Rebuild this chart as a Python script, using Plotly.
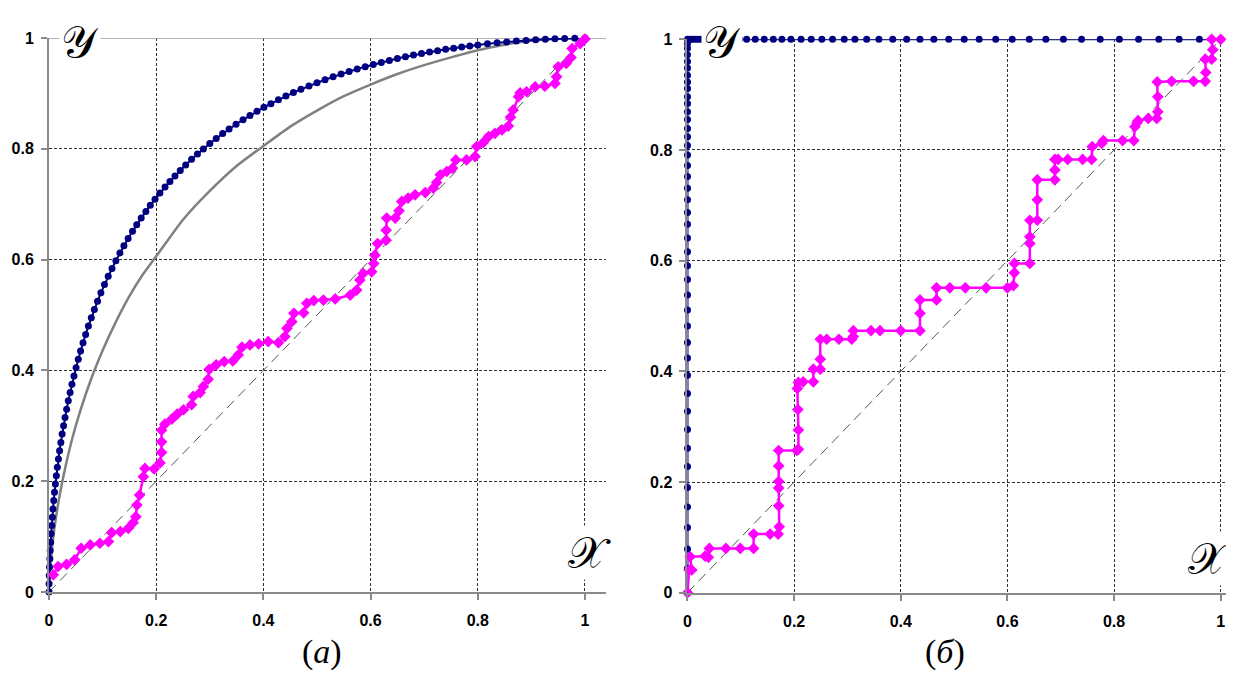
import plotly.graph_objects as go

# ---------------- data ----------------
TICK_VALS = [0, 0.2, 0.4, 0.6, 0.8, 1]
TICK_TEXT = ["0", "0.2", "0.4", "0.6", "0.8", "1"]
DIAG = [0, 1]

# panel (a): smooth estimated ROC (navy, markers)
a_blue_x = [0, 0.0002, 0.0005, 0.001, 0.0016, 0.0023, 0.0031, 0.004, 0.005, 0.0062, 0.0074,
            0.0088, 0.0103, 0.0119, 0.0137, 0.0156, 0.0176, 0.0197, 0.0221, 0.0245, 0.0272,
            0.0299, 0.0329, 0.036, 0.0394, 0.0428, 0.0466, 0.0505, 0.0546, 0.0589, 0.0635,
            0.0684, 0.0735, 0.0789, 0.0846, 0.0906, 0.0968, 0.1035, 0.1105, 0.1176, 0.1248,
            0.1323, 0.1398, 0.1476, 0.1558, 0.1637, 0.172, 0.1807, 0.189, 0.1978, 0.2069,
            0.2165, 0.2256, 0.235, 0.2449, 0.255, 0.266, 0.277, 0.288, 0.3, 0.312, 0.324,
            0.336, 0.349, 0.362, 0.375, 0.388, 0.401, 0.414, 0.428, 0.442, 0.456, 0.47,
            0.485, 0.5, 0.515, 0.53, 0.545, 0.56, 0.575, 0.59, 0.605, 0.62, 0.635, 0.65,
            0.665, 0.68, 0.695, 0.71, 0.725, 0.74, 0.755, 0.77, 0.785, 0.8, 0.818, 0.836,
            0.854, 0.872, 0.89, 0.908, 0.926, 0.944, 0.962, 0.981, 1.0]
a_blue_y = [0, 0.015, 0.03, 0.045, 0.06, 0.075, 0.09, 0.105, 0.12, 0.135, 0.15,
            0.165, 0.18, 0.195, 0.21, 0.225, 0.24, 0.255, 0.27, 0.285, 0.3,
            0.315, 0.33, 0.345, 0.36, 0.375, 0.39, 0.405, 0.42, 0.435, 0.45,
            0.465, 0.48, 0.495, 0.51, 0.525, 0.54, 0.555, 0.57, 0.584, 0.598,
            0.612, 0.625, 0.638, 0.651, 0.663, 0.675, 0.687, 0.698, 0.709, 0.72,
            0.731, 0.741, 0.751, 0.761, 0.7707, 0.7811, 0.7905, 0.7998, 0.8095, 0.8186, 0.8274,
            0.8357, 0.8443, 0.8524, 0.8601, 0.8676, 0.8748, 0.8815, 0.8884, 0.8951, 0.9014, 0.9074,
            0.9135, 0.9192, 0.9247, 0.9299, 0.9349, 0.9396, 0.944, 0.9482, 0.9521, 0.9559, 0.9595, 0.9629,
            0.9661, 0.9691, 0.9719, 0.9746, 0.9771, 0.9795, 0.9817, 0.9838, 0.9857, 0.9875, 0.9895, 0.9913,
            0.9929, 0.9944, 0.9957, 0.9968, 0.9978, 0.9986, 0.9992, 0.9997, 1.0]

# panel (a): theoretical ROC (gray line)
a_gray_x = [0, 0.001, 0.003, 0.007, 0.012, 0.02, 0.03, 0.045, 0.06, 0.08, 0.1, 0.125, 0.15,
            0.175, 0.2, 0.25, 0.3, 0.35, 0.4, 0.45, 0.5, 0.55, 0.6, 0.65, 0.7, 0.75, 0.8,
            0.85, 0.9, 0.95, 1.0]
a_gray_y = [0, 0.024, 0.052, 0.091, 0.128, 0.175, 0.223, 0.283, 0.332, 0.388, 0.436, 0.488, 0.534,
            0.573, 0.606, 0.672, 0.724, 0.769, 0.805, 0.840, 0.869, 0.895, 0.916, 0.935, 0.951, 0.965, 0.978,
            0.988, 0.995, 0.999, 1.0]

# panel (a): empirical ROC (magenta)
a_mag_x = [0.008, 0.017, 0.033, 0.048, 0.060, 0.077, 0.095, 0.111, 0.117, 0.133, 0.148, 0.157,
           0.162, 0.164, 0.169, 0.176, 0.179, 0.196, 0.207, 0.210, 0.210, 0.210, 0.216, 0.229,
           0.239, 0.251, 0.266, 0.269, 0.282, 0.288, 0.297, 0.299, 0.312, 0.327, 0.343, 0.353,
           0.360, 0.375, 0.391, 0.409, 0.428, 0.440, 0.444, 0.453, 0.457, 0.475, 0.481, 0.494,
           0.512, 0.534, 0.562, 0.574, 0.580, 0.586, 0.602, 0.606, 0.608, 0.613, 0.629, 0.629,
           0.630, 0.646, 0.653, 0.658, 0.670, 0.683, 0.702, 0.717, 0.723, 0.730, 0.742, 0.753,
           0.759, 0.779, 0.795, 0.798, 0.810, 0.820, 0.832, 0.845, 0.857, 0.861, 0.866, 0.876,
           0.879, 0.891, 0.907, 0.925, 0.944, 0.947, 0.950, 0.965, 0.974, 0.976, 0.991, 1.000]
a_mag_y = [0.031, 0.046, 0.050, 0.058, 0.079, 0.085, 0.088, 0.091, 0.107, 0.109, 0.115, 0.125,
           0.136, 0.157, 0.175, 0.208, 0.223, 0.222, 0.233, 0.252, 0.271, 0.292, 0.303, 0.312,
           0.321, 0.329, 0.338, 0.353, 0.360, 0.371, 0.384, 0.402, 0.410, 0.416, 0.417, 0.428,
           0.442, 0.446, 0.448, 0.452, 0.450, 0.461, 0.476, 0.488, 0.503, 0.504, 0.521, 0.526,
           0.527, 0.529, 0.536, 0.545, 0.563, 0.575, 0.578, 0.593, 0.608, 0.629, 0.635, 0.653,
           0.675, 0.675, 0.688, 0.705, 0.711, 0.717, 0.721, 0.729, 0.739, 0.753, 0.759, 0.765,
           0.780, 0.780, 0.786, 0.804, 0.811, 0.822, 0.828, 0.834, 0.841, 0.857, 0.870, 0.894,
           0.901, 0.903, 0.912, 0.913, 0.918, 0.930, 0.948, 0.954, 0.965, 0.981, 0.990, 0.998]

# panel (б): estimated ROC (navy, markers)
b_blue_x = [0, 0, 0, 0, 0, 0, 0, 0, 0, 0, 0, 0, 0, 0, 0, 0, 0, 0, 0, 0, 0, 0,
            0, 0, 0, 0, 0, 0, 0, 0, 0, 0, 0, 0, 0, 0, 0, 0, 0, 0, 0, 0, 0, 0,
            0.005, 0.010, 0.015, 0.020, 0.025, 0.04, 0.055, 0.07, 0.085, 0.098,
            0.111, 0.127, 0.144, 0.161, 0.177, 0.194, 0.213, 0.232, 0.252, 0.272,
            0.294, 0.314, 0.336, 0.359, 0.385, 0.411, 0.436, 0.462, 0.490, 0.519,
            0.547, 0.578, 0.609, 0.641, 0.672, 0.705, 0.739, 0.774, 0.810, 0.846,
            0.884, 0.922, 0.960, 1.0]
b_blue_y = [0, 0.044, 0.079, 0.118, 0.155, 0.190, 0.228, 0.261, 0.295, 0.328, 0.360,
            0.393, 0.424, 0.452, 0.482, 0.511, 0.538, 0.566, 0.591, 0.616, 0.641, 0.666,
            0.687, 0.710, 0.731, 0.752, 0.772, 0.791, 0.808, 0.824, 0.839, 0.855, 0.869,
            0.884, 0.896, 0.911, 0.923, 0.935, 0.948, 0.960, 0.972, 0.984, 0.992, 1.0,
            1.0, 1.0, 1.0, 1.0, 1.0, 1.0, 1.0, 1.0, 1.0, 1.0,
            1.0, 1.0, 1.0, 1.0, 1.0, 1.0, 1.0, 1.0, 1.0, 1.0,
            1.0, 1.0, 1.0, 1.0, 1.0, 1.0, 1.0, 1.0, 1.0, 1.0,
            1.0, 1.0, 1.0, 1.0, 1.0, 1.0, 1.0, 1.0, 1.0, 1.0,
            1.0, 1.0, 1.0, 1.0]

# panel (б): empirical ROC (magenta)
b_mag_x = [0, 0.003, 0.008, 0.005, 0.033, 0.039, 0.041, 0.072, 0.099, 0.124, 0.124, 0.155,
           0.170, 0.172, 0.171, 0.171, 0.171, 0.171, 0.171, 0.205, 0.208, 0.208, 0.207, 0.206,
           0.208, 0.217, 0.236, 0.236, 0.249, 0.249, 0.249, 0.261, 0.284, 0.308, 0.311, 0.311,
           0.344, 0.361, 0.400, 0.436, 0.436, 0.436, 0.467, 0.467, 0.492, 0.521, 0.560, 0.600,
           0.611, 0.613, 0.613, 0.642, 0.642, 0.642, 0.642, 0.656, 0.656, 0.656, 0.689, 0.689,
           0.689, 0.695, 0.713, 0.741, 0.758, 0.759, 0.777, 0.780, 0.816, 0.837, 0.839, 0.843,
           0.845, 0.864, 0.880, 0.882, 0.882, 0.881, 0.908, 0.949, 0.971, 0.972, 0.971, 0.983,
           0.985, 0.983, 1.0]
b_mag_y = [0, 0.041, 0.041, 0.065, 0.066, 0.064, 0.080, 0.080, 0.080, 0.080, 0.106, 0.106,
           0.106, 0.119, 0.157, 0.189, 0.201, 0.229, 0.257, 0.257, 0.259, 0.294, 0.331, 0.369,
           0.380, 0.381, 0.381, 0.404, 0.404, 0.422, 0.458, 0.458, 0.458, 0.458, 0.463, 0.4735,
           0.4735, 0.4735, 0.4735, 0.4735, 0.505, 0.529, 0.529, 0.551, 0.551, 0.551, 0.551, 0.551,
           0.555, 0.578, 0.595, 0.595, 0.631, 0.643, 0.673, 0.673, 0.710, 0.746, 0.746, 0.764,
           0.783, 0.783, 0.783, 0.783, 0.783, 0.806, 0.812, 0.817, 0.817, 0.817, 0.842, 0.849,
           0.853, 0.857, 0.857, 0.869, 0.896, 0.923, 0.924, 0.924, 0.924, 0.940, 0.964, 0.964,
           0.981, 1.0, 1.0]

# ---------------- styles ----------------
NAVY = "#000080"
MAGENTA = "#FF00FF"
AXIS_GRAY = "#8a8a8a"

fig = go.Figure()

for xa, ya in (("x", "y"), ("x2", "y2")):
    fig.add_trace(go.Scatter(x=DIAG, y=DIAG, mode="lines", xaxis=xa, yaxis=ya,
                             line=dict(color="#555555", width=1, dash="10px,6px"),
                             hoverinfo="skip", showlegend=False))

fig.add_trace(go.Scatter(x=a_gray_x, y=a_gray_y, mode="lines", xaxis="x", yaxis="y",
                         line=dict(color="#808080", width=2.5, shape="spline", smoothing=0.6),
                         showlegend=False))
fig.add_trace(go.Scatter(x=a_blue_x, y=a_blue_y, mode="lines+markers", xaxis="x", yaxis="y",
                         line=dict(color=NAVY, width=2),
                         marker=dict(symbol="circle", size=7, color=NAVY),
                         cliponaxis=False, showlegend=False))
fig.add_trace(go.Scatter(x=a_mag_x, y=a_mag_y, mode="lines+markers", xaxis="x", yaxis="y",
                         line=dict(color=MAGENTA, width=2.5),
                         marker=dict(symbol="diamond", size=9, color=MAGENTA),
                         cliponaxis=False, showlegend=False))
fig.add_trace(go.Scatter(x=b_blue_x, y=b_blue_y, mode="lines+markers", xaxis="x2", yaxis="y2",
                         line=dict(color=NAVY, width=2),
                         marker=dict(symbol="circle", size=7, color=NAVY),
                         cliponaxis=False, showlegend=False))
fig.add_trace(go.Scatter(x=b_mag_x, y=b_mag_y, mode="lines+markers", xaxis="x2", yaxis="y2",
                         line=dict(color=MAGENTA, width=2.5),
                         marker=dict(symbol="diamond", size=9, color=MAGENTA),
                         cliponaxis=False, showlegend=False))

tickfont = dict(family="Liberation Sans, Arial, sans-serif", size=16, color="black", weight="bold")
common = dict(tickvals=TICK_VALS, ticktext=TICK_TEXT, showgrid=True, gridcolor="#333333",
              griddash="3px,2px", gridwidth=1, showline=True, linecolor=AXIS_GRAY, linewidth=2,
              ticks="outside", ticklen=6, tickcolor=AXIS_GRAY, tickwidth=1.5, zeroline=False,
              tickfont=tickfont, fixedrange=True, automargin=False)

# the page adds an 8 px body margin, so the figure is sized to the remaining window
fig.update_layout(
    template="none",
    width=1226, height=676, autosize=False,
    margin=dict(l=0, r=0, t=0, b=0, pad=0),
    paper_bgcolor="white", plot_bgcolor="white",
    xaxis=dict(domain=[0.03344, 0.48777], range=[0, 1.0392], anchor="y",
               ticklabelstandoff=7, **common),
    yaxis=dict(domain=[0.13609, 0.95562], range=[0, 1], anchor="x",
               ticklabelstandoff=4, **common),
    xaxis2=dict(domain=[0.55424, 1.0], range=[0, 1.0249], anchor="y2",
                ticklabelstandoff=7, **common),
    yaxis2=dict(domain=[0.13506, 0.95370], range=[0, 1], anchor="x2",
                ticklabelstandoff=4, **common),
)

# solid gray top border at y = 1
fig.add_shape(type="line", xref="x", yref="y", x0=0, x1=1.0392, y0=1, y1=1,
              line=dict(color="#9a9a9a", width=1.5), layer="between")
fig.add_shape(type="line", xref="x2", yref="y2", x0=0, x1=1.0249, y0=1, y1=1,
              line=dict(color="#9a9a9a", width=1.5), layer="between")

script_font = dict(family="DejaVu Serif, DejaVu Sans, Noto Sans", size=44, color="black")
label_font = dict(family="Liberation Serif, DejaVu Serif, serif", size=34, color="black")

for px_x, px_y, txt in ((0.05873, 0.95118, "𝒴"), (0.58238, 0.95118, "𝒴"),
                        (0.47471, 0.19379, "𝒳"), (0.98000, 0.18639, "𝒳")):
    fig.add_annotation(x=px_x, y=px_y, xref="paper", yref="paper", text=txt, showarrow=False,
                       xanchor="center", yanchor="middle",
                       font=script_font, bgcolor="white", borderpad=1)

fig.add_annotation(x=0.25600, y=0.04734, xref="paper", yref="paper", text="(<i>a</i>)",
                   xanchor="center", yanchor="middle", showarrow=False, font=label_font)
fig.add_annotation(x=0.76427, y=0.04734, xref="paper", yref="paper", text="(<i>б</i>)",
                   xanchor="center", yanchor="middle", showarrow=False, font=label_font)

fig.write_html("out.html")
